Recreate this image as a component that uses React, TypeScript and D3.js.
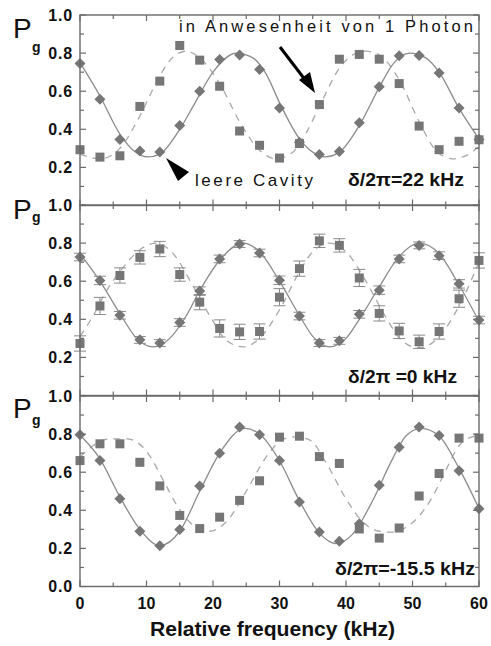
import React from "react";
import * as d3 from "d3";

// ---------- data ----------
const freq = [0, 3, 6, 9, 12, 15, 18, 21, 24, 27, 30, 33, 36, 39, 42, 45, 48, 51, 54, 57, 60];
const xMajorTicks = [0, 10, 20, 30, 40, 50, 60];
const xMinorTicks = [5, 15, 25, 35, 45, 55];
const yMajorTicks = [0, 0.2, 0.4, 0.6, 0.8, 1.0];
const yMinorTicks = [0.1, 0.3, 0.5, 0.7, 0.9];
const yLabels1 = ["1.0", "0.8", "0.6", "0.4", "0.2"];
const yLabels2 = ["1.0", "0.8", "0.6", "0.4", "0.2"];
const yLabels3 = ["1.0", "0.8", "0.6", "0.4", "0.2", "0.0"];

// panel 1 : delta/2pi = 22 kHz
const p1Diamond = [0.746, 0.558, 0.347, 0.286, 0.281, 0.42, 0.6, 0.767, 0.79, 0.714, 0.512, 0.332, 0.268, 0.283, 0.435, 0.623, 0.786, 0.788, 0.695, 0.512, 0.346];
const p1Square = [0.293, 0.254, 0.261, 0.52, 0.653, 0.84, 0.763, 0.626, 0.391, 0.316, 0.249, 0.325, 0.53, 0.768, 0.793, 0.768, 0.64, 0.417, 0.293, 0.337, 0.345];
const p1FitSolid: [number, number][] = [[0, 0.75], [3, 0.575], [6, 0.375], [8, 0.29], [10.2, 0.255], [12, 0.27], [15, 0.4], [17, 0.52], [20, 0.7], [23.5, 0.8], [26, 0.775], [28, 0.69], [30, 0.54], [33, 0.35], [35, 0.28], [36.8, 0.255], [39, 0.28], [42, 0.42], [45, 0.62], [47, 0.74], [49.6, 0.8], [52, 0.775], [54, 0.7], [57, 0.51], [60, 0.35]];
const p1FitDash: [number, number][] = [[0, 0.27], [3, 0.245], [6, 0.3], [9, 0.47], [12, 0.68], [14, 0.78], [16, 0.81], [18, 0.775], [21, 0.64], [24, 0.44], [27, 0.29], [29.5, 0.245], [32, 0.28], [34, 0.38], [36, 0.52], [39, 0.72], [41, 0.79], [43, 0.81], [45, 0.79], [48, 0.66], [51, 0.44], [53.5, 0.29], [56, 0.245], [58.5, 0.27], [60, 0.31]];

// panel 2 : delta/2pi = 0 kHz
const p2Diamond = [0.727, 0.604, 0.421, 0.292, 0.275, 0.383, 0.548, 0.717, 0.795, 0.748, 0.605, 0.417, 0.275, 0.287, 0.426, 0.553, 0.717, 0.788, 0.734, 0.586, 0.396];
const p2DiamondErr = [0.02, 0.022, 0.02, 0.018, 0.018, 0.02, 0.022, 0.02, 0.018, 0.02, 0.022, 0.02, 0.018, 0.018, 0.02, 0.022, 0.02, 0.018, 0.02, 0.022, 0.02];
const p2Square = [0.273, 0.47, 0.63, 0.725, 0.769, 0.635, 0.49, 0.352, 0.334, 0.336, 0.516, 0.666, 0.812, 0.788, 0.617, 0.431, 0.339, 0.282, 0.336, 0.508, 0.709];
const p2SquareErr = [0.04, 0.045, 0.04, 0.035, 0.04, 0.035, 0.04, 0.045, 0.04, 0.04, 0.045, 0.04, 0.035, 0.035, 0.045, 0.04, 0.04, 0.035, 0.04, 0.045, 0.04];
const p2FitSolid: [number, number][] = [[0, 0.745], [3, 0.6], [6, 0.43], [8.5, 0.3], [11, 0.255], [13.5, 0.3], [16, 0.42], [18, 0.55], [21, 0.71], [24.5, 0.8], [27, 0.755], [30, 0.6], [33, 0.42], [35, 0.31], [37.5, 0.255], [40, 0.3], [42, 0.4], [45, 0.57], [48, 0.73], [51, 0.8], [54, 0.745], [57, 0.58], [60, 0.39]];
const p2FitDash: [number, number][] = [[0, 0.31], [2, 0.42], [4, 0.55], [6, 0.65], [9, 0.765], [11.5, 0.8], [14, 0.745], [17, 0.575], [20, 0.39], [22, 0.29], [24.5, 0.255], [27, 0.3], [30, 0.45], [33, 0.65], [35, 0.755], [37.5, 0.8], [40, 0.755], [43, 0.6], [46, 0.41], [48.5, 0.285], [51, 0.25], [53.5, 0.29], [57, 0.47], [60, 0.7]];

// panel 3 : delta/2pi = -15.5 kHz
const p3Diamond = [0.797, 0.661, 0.461, 0.29, 0.214, 0.299, 0.528, 0.7, 0.837, 0.797, 0.661, 0.443, 0.286, 0.237, 0.33, 0.532, 0.731, 0.837, 0.793, 0.608, 0.408];
const p3Square = [0.661, 0.749, 0.749, 0.652, 0.528, 0.373, 0.304, 0.364, 0.452, 0.555, 0.784, 0.789, 0.682, 0.646, 0.302, 0.254, 0.307, 0.475, 0.593, 0.779, 0.779];
const p3FitSolid: [number, number][] = [[0, 0.795], [3, 0.67], [6, 0.47], [9, 0.3], [12, 0.215], [15, 0.29], [18, 0.5], [21, 0.7], [24.8, 0.83], [27, 0.8], [30, 0.66], [33, 0.45], [36, 0.28], [38.5, 0.225], [41, 0.275], [44, 0.45], [47, 0.67], [49, 0.79], [51.3, 0.83], [54, 0.79], [57, 0.62], [60, 0.41]];
const p3FitDash: [number, number][] = [[0, 0.68], [2, 0.74], [4.5, 0.775], [7, 0.775], [10, 0.71], [12.5, 0.56], [14.5, 0.43], [16.3, 0.345], [18, 0.3], [19.5, 0.29], [21, 0.31], [22.5, 0.36], [25, 0.5], [28, 0.68], [30, 0.76], [32, 0.785], [34.5, 0.77], [37, 0.65], [40, 0.46], [42.5, 0.34], [45, 0.29], [47, 0.285], [49, 0.31], [51, 0.37], [53, 0.47], [55, 0.61], [57, 0.74], [59, 0.785], [60, 0.79]];

const detuningLabels = ["δ/2π=22 kHz", "δ/2π =0 kHz", "δ/2π=-15.5 kHz"];
const xTitle = "Relative frequency (kHz)";
const photonNote = "in Anwesenheit von 1 Photon";
const emptyNote = "leere Cavity";

// ---------- layout ----------
const W = 491;
const H = 646;
const X0 = 80;
const X1 = 479;
const PANEL_TOPS = [15, 205, 396];
const PANEL_H = 190.5;
const FONT = "'Liberation Sans', Arial, Helvetica, sans-serif";
const MARK = "#767676";
const SOLID = "#8c8c8c";
const DASH = "#a8a8a8";
const FRAME = "#6a6a6a";

type Panel = {
  diamonds: number[];
  squares: number[];
  dErr?: number[];
  sErr?: number[];
  fitSolid: [number, number][];
  fitDash: [number, number][];
  yLabels: string[];
  label: string;
  labelPos: { x: number; y: number; w: number };
  pPos: { py: number; gy: number };
};

const panels: Panel[] = [
  { diamonds: p1Diamond, squares: p1Square, fitSolid: p1FitSolid, fitDash: p1FitDash, yLabels: yLabels1, label: detuningLabels[0], labelPos: { x: 348, y: 186, w: 116 }, pPos: { py: 38, gy: 52 } },
  { diamonds: p2Diamond, squares: p2Square, dErr: p2DiamondErr, sErr: p2SquareErr, fitSolid: p2FitSolid, fitDash: p2FitDash, yLabels: yLabels2, label: detuningLabels[1], labelPos: { x: 348, y: 383, w: 109 }, pPos: { py: 219, gy: 222 } },
  { diamonds: p3Diamond, squares: p3Square, fitSolid: p3FitSolid, fitDash: p3FitDash, yLabels: yLabels3, label: detuningLabels[2], labelPos: { x: 335, y: 575, w: 140 }, pPos: { py: 418, gy: 425 } },
];

export default function App() {
  const x = d3.scaleLinear().domain([0, 60]).range([X0, X1]);

  const renderPanel = (p: Panel, i: number) => {
    const top = PANEL_TOPS[i];
    const y = d3.scaleLinear().domain([0, 1]).range([top + PANEL_H, top]);
    const line = d3
      .line<[number, number]>()
      .x((d) => x(d[0]))
      .y((d) => y(d[1]))
      .curve(d3.curveMonotoneX);
    const labelVals = p.yLabels.map((s) => parseFloat(s));
    return (
      <g key={i}>
        <path d={line(p.fitDash) || ""} fill="none" stroke={DASH} strokeWidth={1.3} strokeDasharray="7,6" />
        <path d={line(p.fitSolid) || ""} fill="none" stroke={SOLID} strokeWidth={1.3} />
        {p.sErr &&
          freq.map((f, k) => {
            const cx = x(f);
            const e = p.sErr![k];
            const v = p.squares[k];
            return (
              <g key={"se" + k} stroke="#8a8a8a" strokeWidth={1}>
                <line x1={cx} x2={cx} y1={y(v - e)} y2={y(v + e)} />
                <line x1={cx - 6} x2={cx + 6} y1={y(v - e)} y2={y(v - e)} />
                <line x1={cx - 6} x2={cx + 6} y1={y(v + e)} y2={y(v + e)} />
              </g>
            );
          })}
        {p.dErr &&
          freq.map((f, k) => {
            const cx = x(f);
            const e = p.dErr![k];
            const v = p.diamonds[k];
            return (
              <g key={"de" + k} stroke="#8a8a8a" strokeWidth={1}>
                <line x1={cx} x2={cx} y1={y(v - e)} y2={y(v + e)} />
                <line x1={cx - 6} x2={cx + 6} y1={y(v - e)} y2={y(v - e)} />
                <line x1={cx - 6} x2={cx + 6} y1={y(v + e)} y2={y(v + e)} />
              </g>
            );
          })}
        {freq.map((f, k) => (
          <rect key={"s" + k} x={x(f) - 4.5} y={y(p.squares[k]) - 4.5} width={9} height={9} fill={MARK} />
        ))}
        {freq.map((f, k) => {
          const cx = x(f);
          const cy = y(p.diamonds[k]);
          const r = 5.5;
          return <path key={"d" + k} d={`M${cx},${cy - r}L${cx + r},${cy}L${cx},${cy + r}L${cx - r},${cy}Z`} fill={MARK} />;
        })}
        <rect x={X0} y={top} width={X1 - X0} height={PANEL_H} fill="none" stroke={FRAME} strokeWidth={1.4} />
        {yMajorTicks.map((t) => (
          <g key={"ym" + t} stroke={FRAME} strokeWidth={1.2}>
            <line x1={X0} x2={X0 + 6} y1={y(t)} y2={y(t)} />
            <line x1={X1} x2={X1 - 6} y1={y(t)} y2={y(t)} />
          </g>
        ))}
        {yMinorTicks.map((t) => (
          <g key={"yn" + t} stroke={FRAME} strokeWidth={1.2}>
            <line x1={X0} x2={X0 + 4} y1={y(t)} y2={y(t)} />
            <line x1={X1} x2={X1 - 4} y1={y(t)} y2={y(t)} />
          </g>
        ))}
        {xMajorTicks.map((t) => (
          <g key={"xm" + t} stroke={FRAME} strokeWidth={1.2}>
            <line x1={x(t)} x2={x(t)} y1={top} y2={top + 6} />
            <line x1={x(t)} x2={x(t)} y1={top + PANEL_H} y2={top + PANEL_H - 6} />
          </g>
        ))}
        {xMinorTicks.map((t) => (
          <g key={"xn" + t} stroke={FRAME} strokeWidth={1.2}>
            <line x1={x(t)} x2={x(t)} y1={top} y2={top + 4} />
            <line x1={x(t)} x2={x(t)} y1={top + PANEL_H} y2={top + PANEL_H - 4} />
          </g>
        ))}
        {p.yLabels.map((s, k) => (
          <text key={"yl" + k} x={73} y={y(labelVals[k]) + 5.5} textAnchor="end" fontFamily={FONT} fontWeight="bold" fontSize={16} letterSpacing={0.8} fill="#111">
            {s}
          </text>
        ))}
        <text x={13} y={p.pPos.py} fontFamily={FONT} fontSize={28} fill="#111">P</text>
        <text x={32} y={p.pPos.gy} fontFamily={FONT} fontSize={14} fontWeight="bold" fill="#111">g</text>
        <text x={p.labelPos.x} y={p.labelPos.y} fontFamily={FONT} fontWeight="bold" fontSize={18} fill="#111" textLength={p.labelPos.w} lengthAdjust="spacingAndGlyphs">
          {p.label}
        </text>
      </g>
    );
  };

  return (
    <svg width={W} height={H} style={{ position: "absolute", left: 0, top: 0, background: "#fff" }}>
      <rect x={0} y={0} width={W} height={H} fill="#fff" />
      {panels.map(renderPanel)}
      {xMajorTicks.map((t) => (
        <text key={"xl" + t} x={x(t)} y={609} textAnchor="middle" fontFamily={FONT} fontWeight="bold" fontSize={16} fill="#111">
          {t}
        </text>
      ))}
      <text x={150} y={636} fontFamily={FONT} fontWeight="bold" fontSize={20} fill="#111" textLength={245} lengthAdjust="spacingAndGlyphs">
        {xTitle}
      </text>
      <text x={179} y={32} fontFamily={FONT} fontSize={16.5} fill="#111" textLength={294} lengthAdjust="spacing">
        {photonNote}
      </text>
      <text x={195} y={186} fontFamily={FONT} fontSize={17} fill="#111" textLength={118} lengthAdjust="spacing">
        {emptyNote}
      </text>
      <line x1={280} y1={47} x2={306} y2={81} stroke="#000" strokeWidth={3} />
      <path d="M315,93 L299,80 L310,72 Z" fill="#000" />
      <path d="M166,158 L178,181 L189,172 Z" fill="#000" />
    </svg>
  );
}
